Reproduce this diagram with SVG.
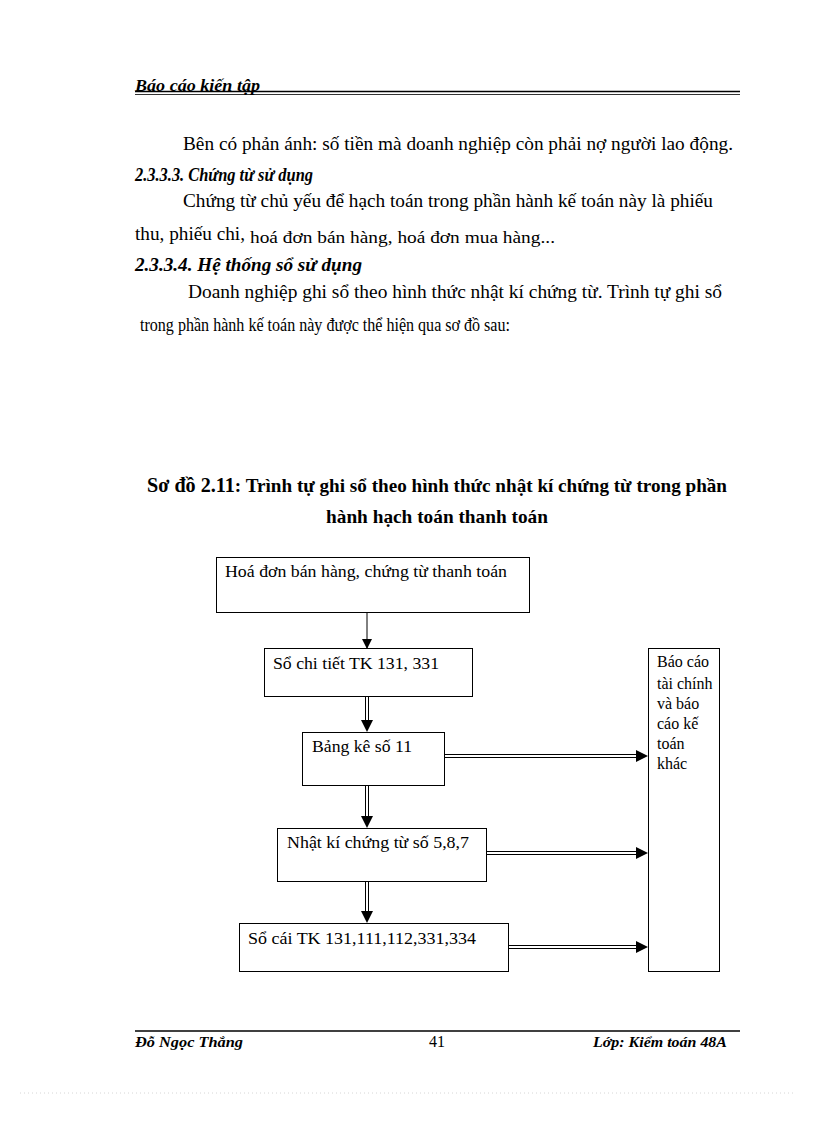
<svg xmlns="http://www.w3.org/2000/svg" width="816" height="1123" viewBox="0 0 816 1123">
<style>
.body{font-family:"Liberation Serif","Times New Roman",serif;font-size:18px;fill:#000}
.sm{font-family:"Liberation Serif","Times New Roman",serif;font-size:16.5px;fill:#000}
.hd{font-family:"Liberation Serif","Times New Roman",serif;font-size:18px;font-weight:bold;font-style:italic;fill:#000}
.ttl{font-family:"Liberation Serif","Times New Roman",serif;font-size:19px;font-weight:bold;fill:#000}
.scr{font-family:"Liberation Serif","Times New Roman",serif;font-weight:bold;font-style:italic;fill:#000}
.box{fill:#fff;stroke:#000;stroke-width:1}
.lbl{font-family:"Liberation Serif","Times New Roman",serif;font-size:16px;fill:#000}
.ln{stroke:#000;stroke-width:1;fill:none}
</style>
<defs>
<marker id="ahs" markerWidth="10" markerHeight="10" refX="9" refY="5" orient="auto" markerUnits="userSpaceOnUse">
<path d="M0,0 L10,5 L0,10 Z" fill="#000"/>
</marker>
</defs>
<rect width="816" height="1123" fill="#fff"/>

<!-- header -->
<text class="scr" x="135" y="91" font-size="17" textLength="125" lengthAdjust="spacingAndGlyphs">Báo cáo kiến tập</text>
<line x1="135" y1="91.5" x2="740" y2="91.5" stroke="#000" stroke-width="1.5"/>
<line x1="135" y1="94.5" x2="740" y2="94.5" stroke="#000" stroke-width="0.8"/>

<!-- body -->
<text class="body" x="183" y="150" textLength="550" lengthAdjust="spacingAndGlyphs">Bên có phản ánh: số tiền mà doanh nghiệp còn phải nợ người lao động.</text>
<text class="hd" x="135" y="181" textLength="178" lengthAdjust="spacingAndGlyphs">2.3.3.3. Chứng từ sử dụng</text>
<text class="body" x="183" y="207" textLength="530" lengthAdjust="spacingAndGlyphs">Chứng từ chủ yếu để hạch toán trong phần hành kế toán này là phiếu</text>
<text class="body" x="135" y="240" textLength="110" lengthAdjust="spacingAndGlyphs">thu, phiếu chi,</text>
<text class="sm" x="250" y="243" textLength="305" lengthAdjust="spacingAndGlyphs">hoá đơn bán hàng, hoá đơn mua hàng...</text>
<text class="hd" x="135" y="271" textLength="227" lengthAdjust="spacingAndGlyphs">2.3.3.4. Hệ thống sổ sử dụng</text>
<text class="body" x="188" y="298" textLength="534" lengthAdjust="spacingAndGlyphs">Doanh nghiệp ghi sổ theo hình thức nhật kí chứng từ. Trình tự ghi sổ</text>
<text class="body" x="140" y="331" textLength="370" lengthAdjust="spacingAndGlyphs">trong phần hành kế toán này được thể hiện qua sơ đồ sau:</text>

<!-- title -->
<text class="ttl" x="147" y="492" textLength="580" lengthAdjust="spacingAndGlyphs"><tspan font-size="20">Sơ đồ 2.11</tspan>: Trình tự ghi sổ theo hình thức nhật kí chứng từ trong phần</text>
<text class="ttl" x="326" y="523" textLength="222" lengthAdjust="spacingAndGlyphs">hành hạch toán thanh toán</text>

<!-- connectors -->
<g id="connectors">
<line class="ln" x1="367" y1="612" x2="367" y2="648" marker-end="url(#ahs)"/>
<g>
<line class="ln" x1="365.5" y1="696" x2="365.5" y2="722"/>
<line class="ln" x1="368.5" y1="696" x2="368.5" y2="722"/>
<path d="M361,720 L373,720 L367,732 Z" fill="#000"/>
</g>
<g>
<line class="ln" x1="365.5" y1="785" x2="365.5" y2="818"/>
<line class="ln" x1="368.5" y1="785" x2="368.5" y2="818"/>
<path d="M361,816 L373,816 L367,828 Z" fill="#000"/>
</g>
<g>
<line class="ln" x1="365.5" y1="881" x2="365.5" y2="913"/>
<line class="ln" x1="368.5" y1="881" x2="368.5" y2="913"/>
<path d="M361,911 L373,911 L367,923 Z" fill="#000"/>
</g>
<g>
<line class="ln" x1="444" y1="754.5" x2="638" y2="754.5"/>
<line class="ln" x1="444" y1="757.5" x2="638" y2="757.5"/>
<path d="M636,750 L648,756 L636,762 Z" fill="#000"/>
</g>
<g>
<line class="ln" x1="482" y1="851.5" x2="638" y2="851.5"/>
<line class="ln" x1="482" y1="854.5" x2="638" y2="854.5"/>
<path d="M636,847 L648,853 L636,859 Z" fill="#000"/>
</g>
<g>
<line class="ln" x1="508" y1="945.5" x2="638" y2="945.5"/>
<line class="ln" x1="508" y1="948.5" x2="638" y2="948.5"/>
<path d="M636,941 L648,947 L636,953 Z" fill="#000"/>
</g>
</g>

<!-- nodes -->
<g id="n1">
<rect class="box" x="216.5" y="557.5" width="313" height="55"/>
<text class="lbl" x="225" y="577" textLength="282" lengthAdjust="spacingAndGlyphs">Hoá đơn bán hàng, chứng từ thanh toán</text>
</g>
<g id="n2">
<rect class="box" x="264.5" y="648.5" width="208" height="48"/>
<text class="lbl" x="273" y="669" textLength="166" lengthAdjust="spacingAndGlyphs">Sổ chi tiết TK 131, 331</text>
</g>
<g id="n3">
<rect class="box" x="302.5" y="732.5" width="142" height="53"/>
<text class="lbl" x="312" y="752" textLength="100" lengthAdjust="spacingAndGlyphs">Bảng kê số 11</text>
</g>
<g id="n4">
<rect class="box" x="277.5" y="828.5" width="209" height="53"/>
<text class="lbl" x="287" y="848" textLength="182" lengthAdjust="spacingAndGlyphs">Nhật kí chứng từ số 5,8,7</text>
</g>
<g id="n5">
<rect class="box" x="239.5" y="923.5" width="269" height="48"/>
<text class="lbl" x="248" y="944" textLength="228" lengthAdjust="spacingAndGlyphs">Sổ cái TK 131,111,112,331,334</text>
</g>
<g id="n6">
<rect class="box" x="648.5" y="648.5" width="71" height="323"/>
<text class="lbl" x="657" y="667">Báo cáo</text>
<text class="lbl" x="657" y="689">tài chính</text>
<text class="lbl" x="657" y="709">và báo</text>
<text class="lbl" x="657" y="729">cáo kế</text>
<text class="lbl" x="657" y="749">toán</text>
<text class="lbl" x="657" y="769">khác</text>
</g>

<!-- footer -->
<line x1="135" y1="1031" x2="740" y2="1031" stroke="#000" stroke-width="1.5"/>
<text class="scr" x="135" y="1047" font-size="14" textLength="108" lengthAdjust="spacingAndGlyphs">Đỗ Ngọc Thắng</text>
<text class="lbl" x="437" y="1047" text-anchor="middle" font-size="15">41</text>
<text class="scr" x="593" y="1047" font-size="14" textLength="134" lengthAdjust="spacingAndGlyphs">Lớp: Kiểm toán 48A</text>
<line x1="20" y1="1093" x2="796" y2="1093" stroke="#ccc" stroke-width="0.8" stroke-dasharray="1,3"/>
</svg>
